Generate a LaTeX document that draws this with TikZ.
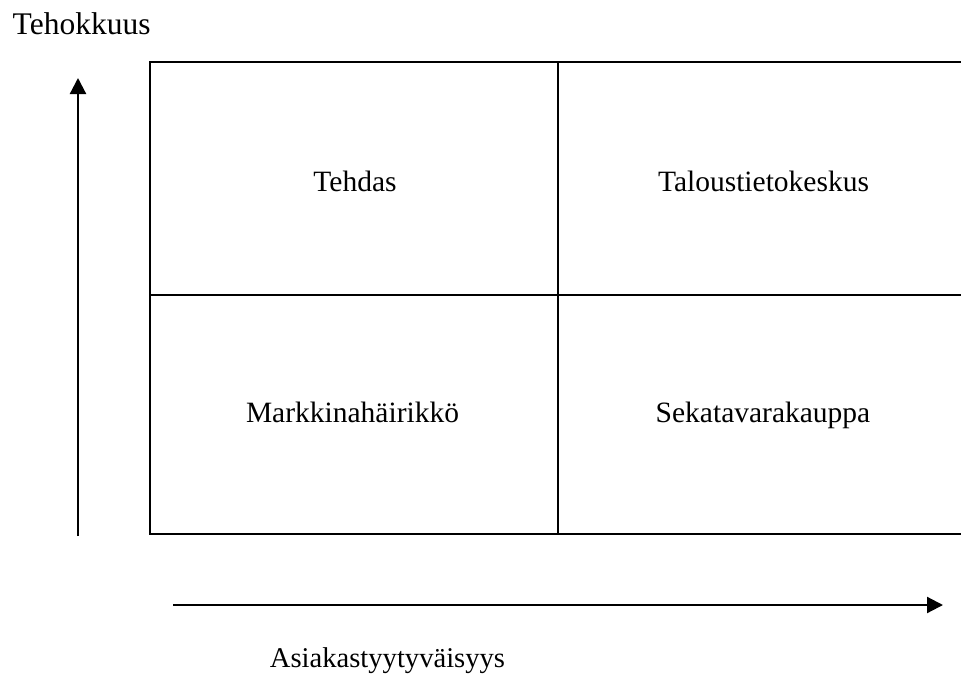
\documentclass[tikz,border=0pt]{standalone}
\usepackage{fontspec}
\setmainfont{Liberation Serif}
\usetikzlibrary{arrows.meta}
\begin{document}
\begin{tikzpicture}[x=1pt,y=-1pt,
  frame/.style={draw=black,line width=2.2pt},
  axis/.style={draw=black,line width=2.2pt,-{Triangle[length=16pt,width=16pt]}},
  qlbl/.style={font=\fontsize{29.5}{34}\selectfont,inner sep=0pt,anchor=base},
  albl/.style={inner sep=0pt,anchor=base}]
\useasboundingbox (0,0) rectangle (961,677);
% quadrant grid (open on the right, running to the edge)
\coordinate (tr) at (962,62);
\coordinate (tl) at (150,62);
\coordinate (bl) at (150,534);
\coordinate (brr) at (962,534);
\draw[frame] (tr) -- (tl) -- (bl) -- (brr);
\coordinate (mt) at (558,62);
\coordinate (mb) at (558,534);
\coordinate (ml) at (150,295);
\coordinate (mr) at (962,295);
\draw[frame] (mt) -- (mb);
\draw[frame] (ml) -- (mr);
% quadrant labels
\node[qlbl] (q1) at (355,191) {Tehdas};
\node[qlbl] (q2) at (763.5,191) {Taloustietokeskus};
\node[qlbl] (q3) at (352.5,422) {Markkinahäirikkö};
\node[qlbl] (q4) at (763,422) {Sekatavarakauppa};
% axes
\coordinate (ya) at (78,536);
\coordinate (yb) at (78,78);
\draw[axis] (ya) -- (yb);
\coordinate (xa) at (173,605);
\coordinate (xb) at (943,605);
\draw[axis] (xa) -- (xb);
\node[albl,anchor=base west,font=\fontsize{31.5}{36}\selectfont] (ylab) at (12.5,35) {Tehokkuus};
\node[albl,font=\fontsize{28.6}{33}\selectfont] (xlab) at (387.5,667) {Asiakastyytyväisyys};
\end{tikzpicture}
\end{document}
